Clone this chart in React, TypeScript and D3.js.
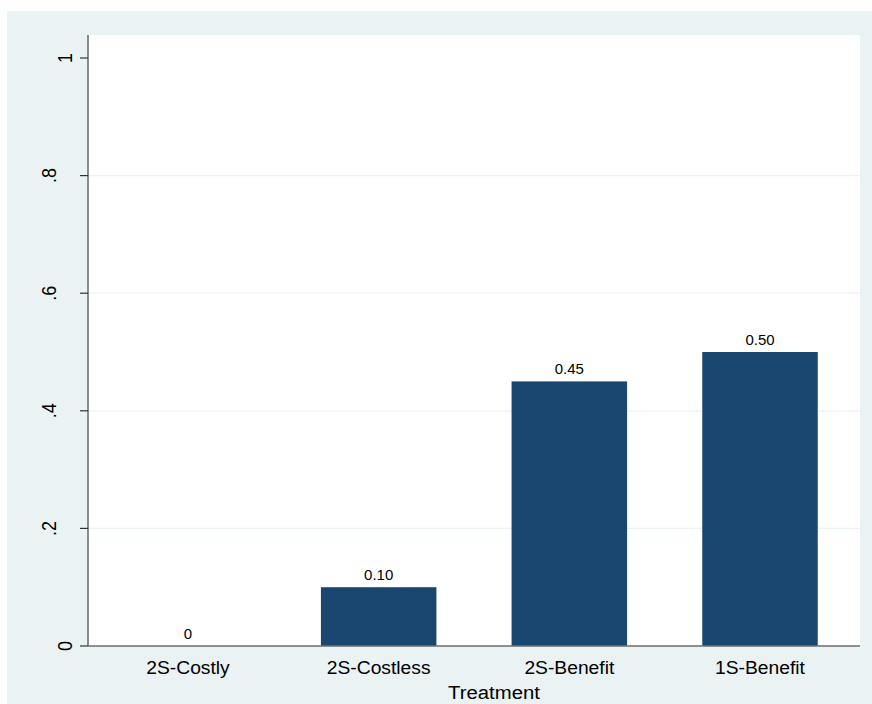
import React from "react";
import * as d3 from "d3";

const categories: string[] = ["2S-Costly", "2S-Costless", "2S-Benefit", "1S-Benefit"];
const values: number[] = [0, 0.1, 0.45, 0.5];
const valueLabels: string[] = ["0", "0.10", "0.45", "0.50"];
const yTicks: number[] = [0, 0.2, 0.4, 0.6, 0.8, 1];
const yTickLabels: string[] = ["0", ".2", ".4", ".6", ".8", "1"];
const gridTicks: number[] = [0.2, 0.4, 0.6, 0.8];
const xTitle = "Treatment";

const W = 872;
const H = 704;
const plot = { left: 88, right: 860, top: 35, bottom: 646 };
const FONT = "'Liberation Sans', Arial, Helvetica, sans-serif";

export default function App() {
  const y = d3.scaleLinear().domain([0, 1]).range([plot.bottom, 58]);
  const x = d3
    .scalePoint<string>()
    .domain(categories)
    .range([plot.left + 100, plot.right - 100]);
  const barW = 115.5;

  return (
    <svg
      width={W}
      height={H}
      style={{ position: "absolute", left: 0, top: 0, display: "block" }}
    >
      <rect x={0} y={0} width={W} height={H} fill="#ffffff" />
      <rect x={7} y={11} width={W - 7} height={H - 11} fill="#EAF2F3" />
      <rect
        x={plot.left}
        y={plot.top}
        width={plot.right - plot.left}
        height={plot.bottom - plot.top}
        fill="#ffffff"
      />
      {gridTicks.map((t) => (
        <line
          key={"g" + t}
          x1={plot.left}
          x2={plot.right}
          y1={y(t)}
          y2={y(t)}
          stroke="#EAF2F3"
          strokeWidth={1.2}
        />
      ))}
      {categories.map((c, i) => (
        <rect
          key={"b" + c}
          x={(x(c) as number) - barW / 2}
          y={y(values[i])}
          width={barW}
          height={y(0) - y(values[i])}
          fill="#1A476F"
        />
      ))}
      {categories.map((c, i) => (
        <text
          key={"v" + c}
          x={x(c) as number}
          y={y(values[i]) - 7}
          textAnchor="middle"
          fontFamily={FONT}
          fontSize={15}
          fill="#000"
        >
          {valueLabels[i]}
        </text>
      ))}
      {/* axes */}
      <line x1={plot.left} x2={plot.left} y1={plot.top} y2={plot.bottom} stroke="#6E6E6E" strokeWidth={1.6} />
      <line x1={plot.left} x2={plot.right} y1={plot.bottom} y2={plot.bottom} stroke="#6E6E6E" strokeWidth={1.6} />
      {yTicks.map((t, i) => {
        const lx = yTickLabels[i].startsWith(".") ? 56 : 72;
        return (
          <g key={"t" + t}>
            <line x1={80} x2={plot.left} y1={y(t)} y2={y(t)} stroke="#333" strokeWidth={1.2} />
            <text
              transform={`translate(${lx},${y(t)}) scale(1.12,1) rotate(-90)`}
              textAnchor="middle"
              fontFamily={FONT}
              fontSize={18}
              fill="#000"
            >
              {yTickLabels[i]}
            </text>
          </g>
        );
      })}
      {categories.map((c) => (
        <text
          key={"c" + c}
          transform={`translate(${x(c) as number},674) scale(1.07,1)`}
          textAnchor="middle"
          fontFamily={FONT}
          fontSize={18}
          fill="#000"
        >
          {c}
        </text>
      ))}
      <text
        transform={`translate(494,699) scale(1.07,1)`}
        textAnchor="middle"
        fontFamily={FONT}
        fontSize={19}
        fill="#000"
      >
        {xTitle}
      </text>
    </svg>
  );
}
